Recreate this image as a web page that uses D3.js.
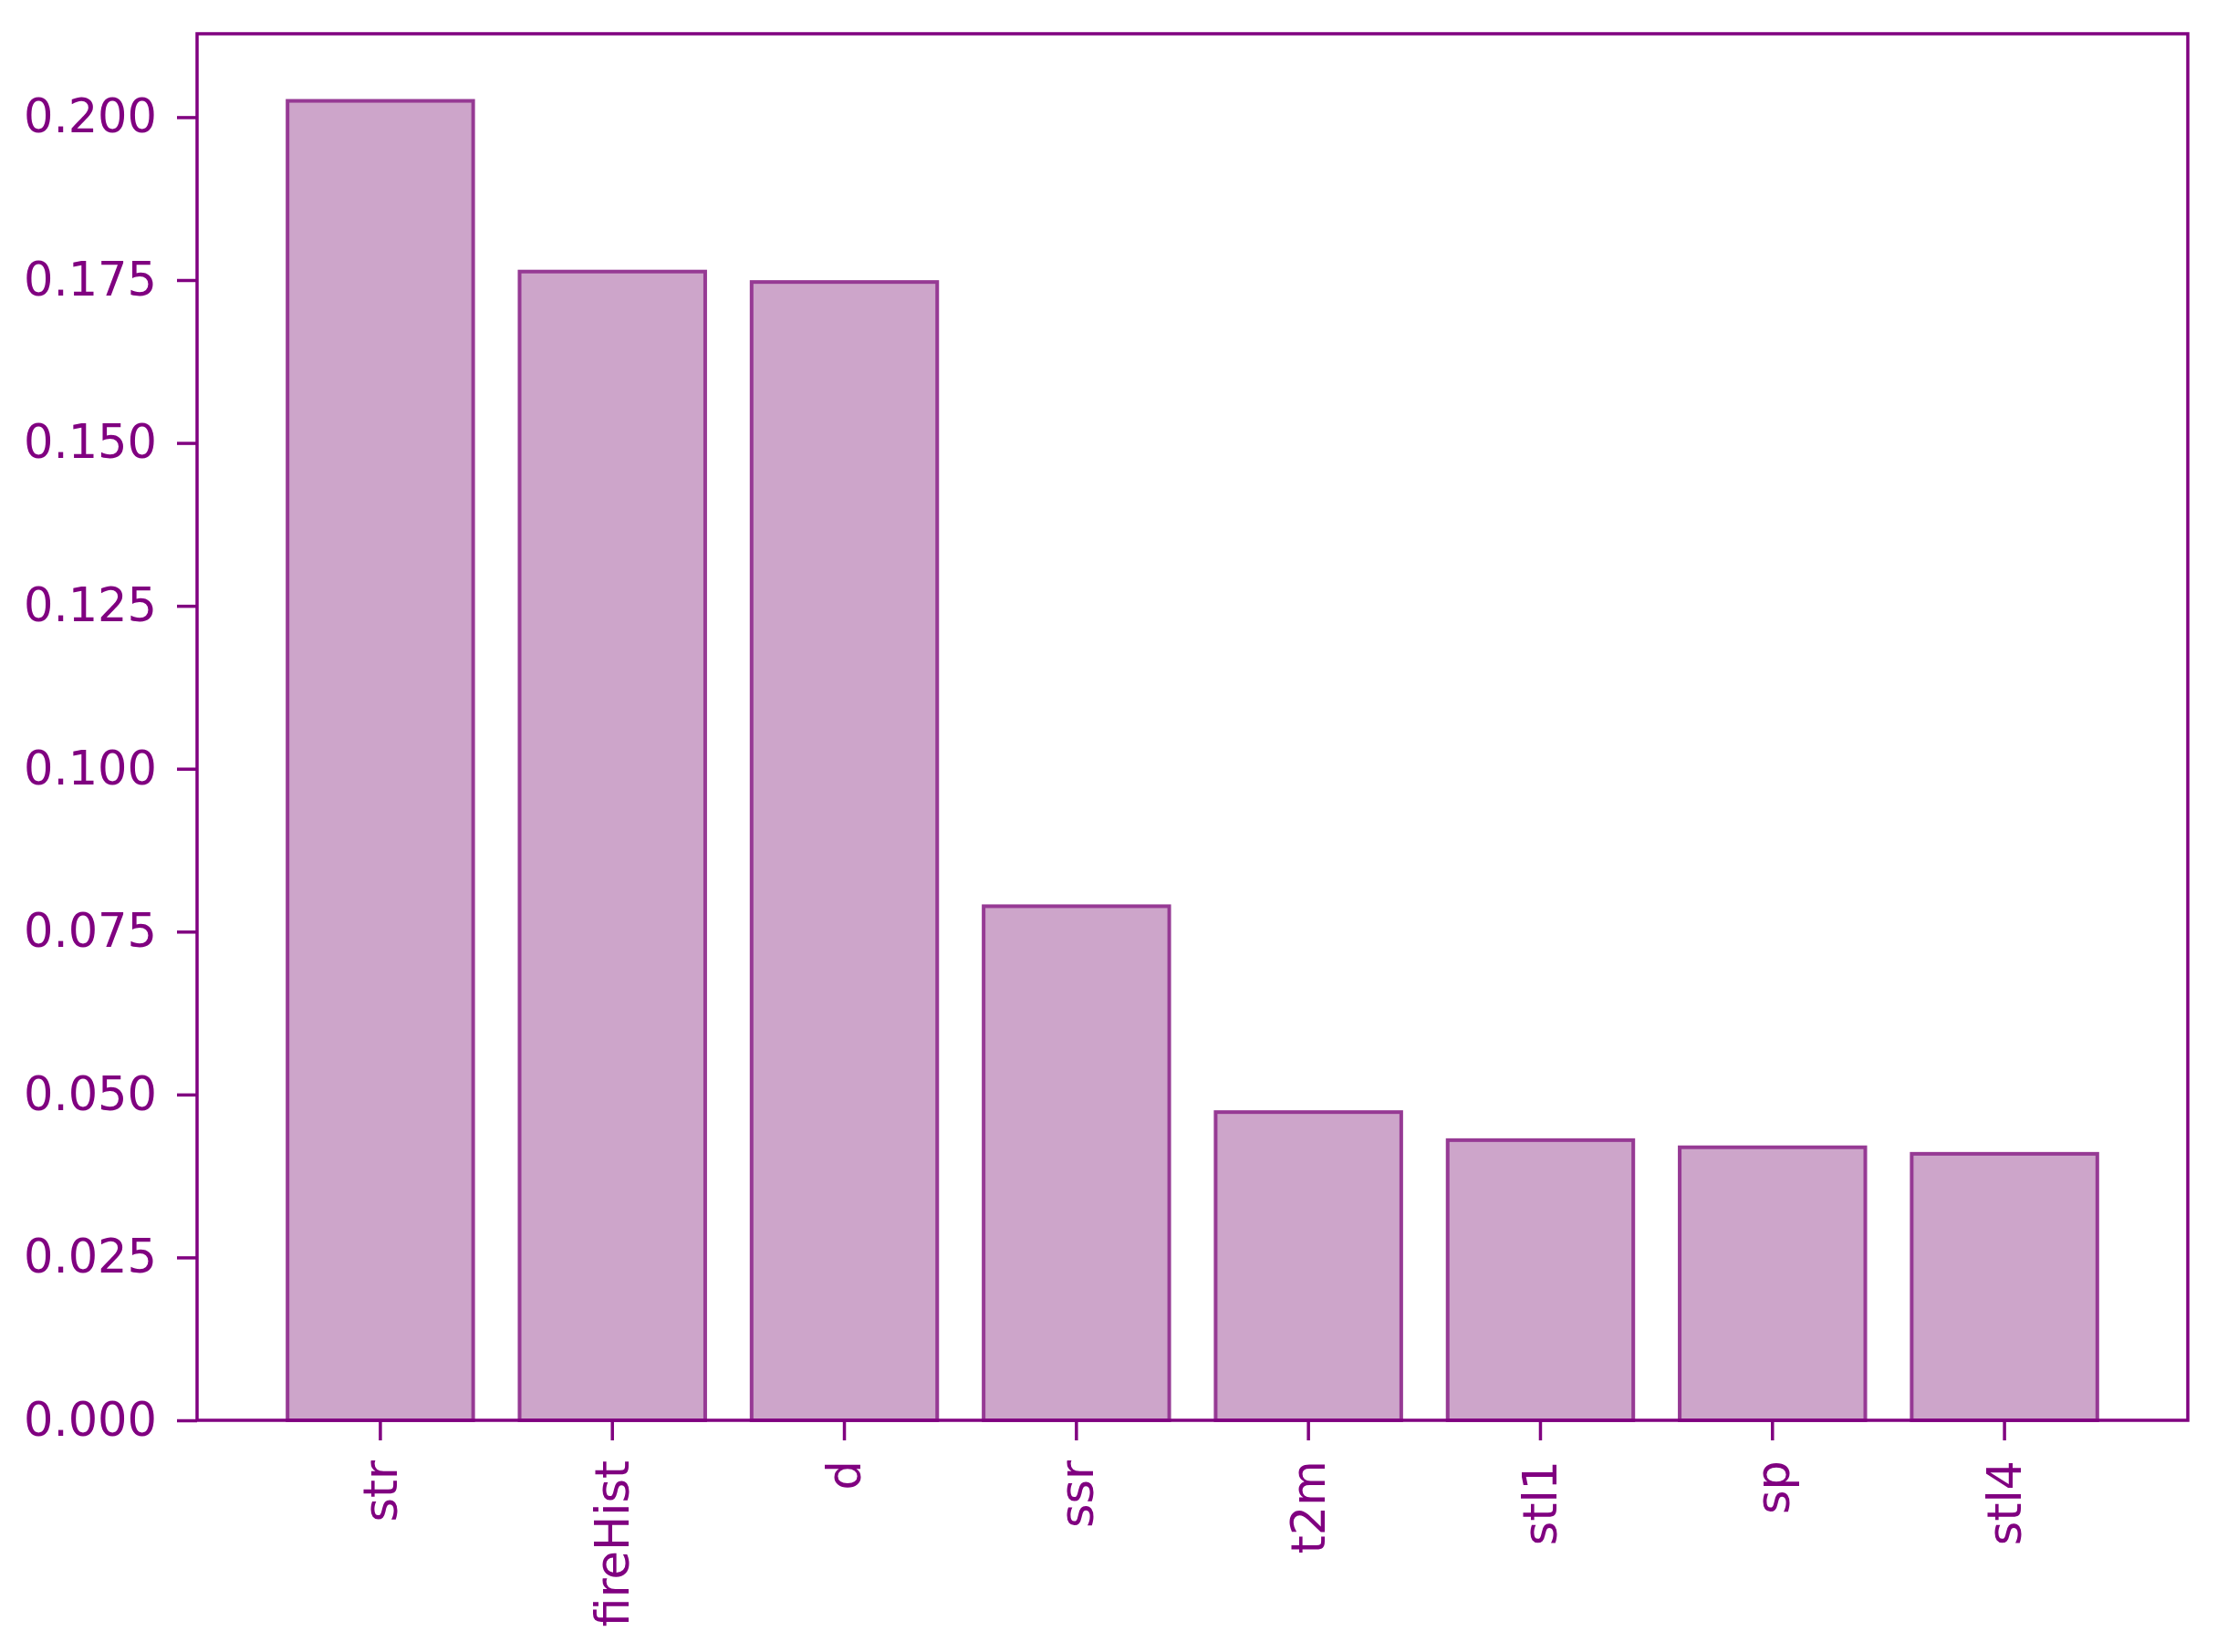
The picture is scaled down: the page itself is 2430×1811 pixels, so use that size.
<!DOCTYPE html>
<html>
<head>
<meta charset="utf-8">
<script src="https://cdn.jsdelivr.net/npm/d3@7"></script>
<style>
  html, body { margin: 0; padding: 0; background: #ffffff; }
  svg { display: block; }
</style>
</head>
<body>
<svg id="chart" width="2430" height="1811"></svg>
<script>
// ---- data ----
const categories = ["str", "fireHist", "d", "ssr", "t2m", "stl1", "sp", "stl4"];
const importance = [0.2025, 0.1763, 0.1747, 0.0789, 0.0473, 0.0430, 0.0419, 0.0409];
const yTicks = [0.000, 0.025, 0.050, 0.075, 0.100, 0.125, 0.150, 0.175, 0.200];

// ---- layout ----
const W = 2430, H = 1811;
const plot = { left: 216, right: 2398, top: 37, bottom: 1557 };
const purple = "#800080";
const fill = "#cda5ca";
const edge = "#963a94";
const font = "'DejaVu Sans', sans-serif";
const fontSize = 51;

const svg = d3.select("#chart");
svg.append("rect").attr("width", W).attr("height", H).attr("fill", "#ffffff");

const x = d3.scaleBand()
  .domain(categories)
  .range([plot.left, plot.right])
  .paddingInner(0.2)
  .paddingOuter(0.39);

const y = d3.scaleLinear()
  .domain([0, 0.2128])
  .range([plot.bottom, plot.top]);

// bars
svg.append("g")
  .selectAll("rect")
  .data(categories.map((c, i) => ({ c, v: importance[i] })))
  .join("rect")
  .attr("x", d => x(d.c))
  .attr("width", x.bandwidth())
  .attr("y", d => y(d.v))
  .attr("height", d => y(0) - y(d.v))
  .attr("fill", fill)
  .attr("stroke", edge)
  .attr("stroke-width", 4);

// frame
svg.append("rect")
  .attr("x", plot.left)
  .attr("y", plot.top)
  .attr("width", plot.right - plot.left)
  .attr("height", plot.bottom - plot.top)
  .attr("fill", "none")
  .attr("stroke", purple)
  .attr("stroke-width", 3.5);

// y axis
const yAxis = svg.append("g")
  .attr("transform", `translate(${plot.left},0)`)
  .call(d3.axisLeft(y).tickValues(yTicks).tickFormat(d3.format(".3f")).tickSize(22).tickPadding(22));
yAxis.select(".domain").remove();
yAxis.selectAll(".tick line").attr("stroke", purple).attr("stroke-width", 3.5);
yAxis.selectAll(".tick text")
  .attr("fill", purple)
  .style("font-family", font)
  .style("font-size", fontSize + "px");

// x axis
const xAxis = svg.append("g")
  .attr("transform", `translate(0,${plot.bottom})`)
  .call(d3.axisBottom(x).tickSize(22).tickPadding(22));
xAxis.select(".domain").remove();
xAxis.selectAll(".tick line").attr("stroke", purple).attr("stroke-width", 3.5);
xAxis.selectAll(".tick text")
  .attr("fill", purple)
  .style("font-family", font)
  .style("font-size", fontSize + "px")
  .attr("transform", "rotate(-90)")
  .attr("text-anchor", "end")
  .attr("x", -44)
  .attr("y", 0)
  .attr("dy", "0.35em");
</script>
</body>
</html>
